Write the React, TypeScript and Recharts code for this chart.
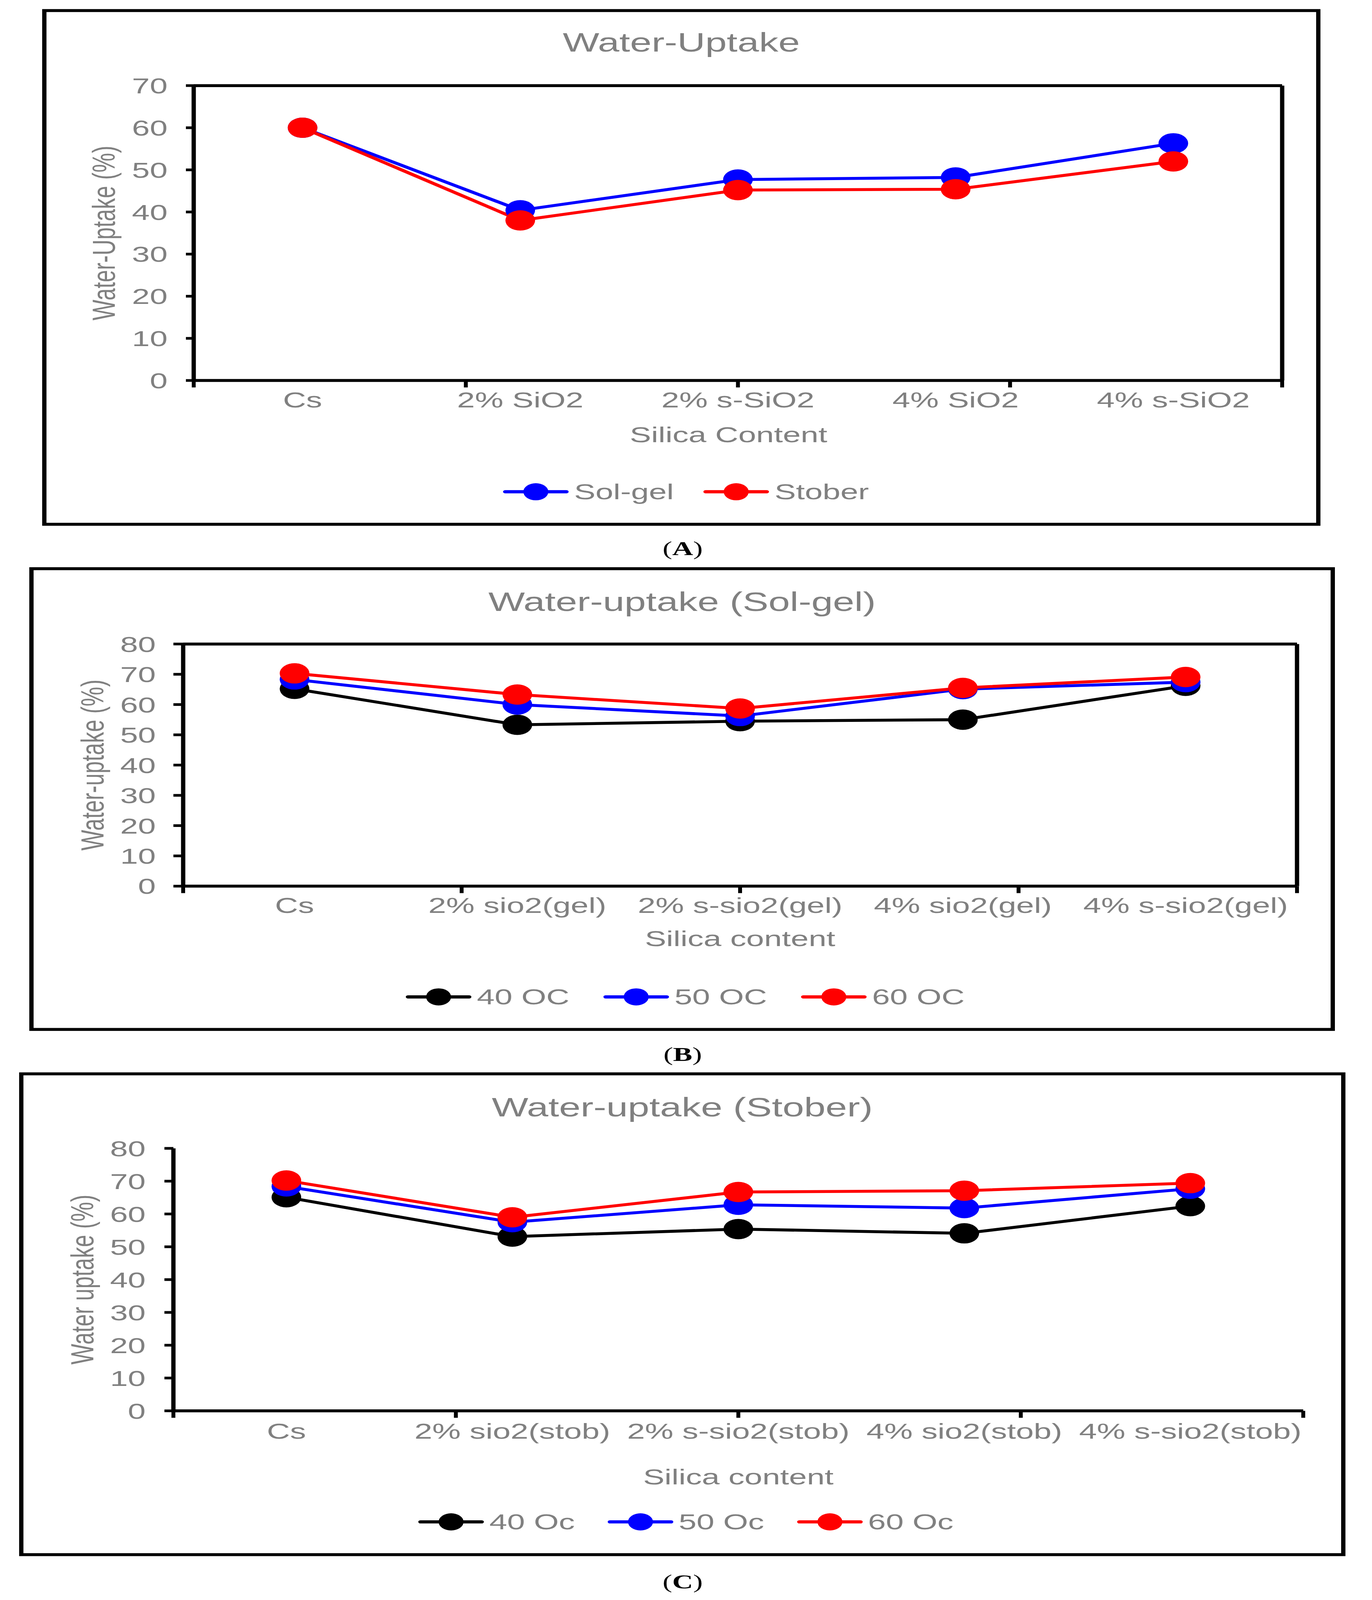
import React from 'react';
import { LineChart, Line, XAxis, YAxis, Legend } from 'recharts';

const FONT = '"Liberation Sans", Arial, Helvetica, sans-serif';
const SERIF = '"Liberation Serif", "Times New Roman", Times, serif';
const GRAY = '#808080';

// ---------- Panel A ----------
const catsA = ['Cs', '2% SiO2', '2% s-SiO2', '4% SiO2', '4% s-SiO2'];
const solGelA = [60, 40.4, 47.7, 48.2, 56.3];
const stoberA = [60, 38.0, 45.2, 45.4, 52.0];
const yTicksA = [0, 10, 20, 30, 40, 50, 60, 70];

// ---------- Panel B ----------
const catsB = ['Cs', '2% sio2(gel)', '2% s-sio2(gel)', '4% sio2(gel)', '4% s-sio2(gel)'];
const b40 = [65.2, 53.3, 54.5, 55.0, 66.2];
const b50 = [68.3, 60.0, 56.2, 65.1, 67.4];
const b60 = [70.3, 63.3, 58.7, 65.5, 69.1];

// ---------- Panel C ----------
const catsC = ['Cs', '2% sio2(stob)', '2% s-sio2(stob)', '4% sio2(stob)', '4% s-sio2(stob)'];
const c40 = [65.1, 53.1, 55.4, 54.1, 62.4];
const c50 = [68.4, 57.5, 62.8, 61.8, 67.7];
const c60 = [70.2, 59.0, 66.7, 67.1, 69.4];

const yTicks80 = [0, 10, 20, 30, 40, 50, 60, 70, 80];

const PAGE_W = 3513;
const PAGE_H = 5980;

type Series = { key: string; name: string; color: string; values: number[] };

type Geo = {
  left: number; top: number; width: number; height: number;
  plotLeft: number; plotTop: number; plotRight: number; plotBottom: number;
  yTickSize: number; yTickMargin: number; yLabelDx: number;
  xTickMargin: number; xAxisHeight: number; xLabelDx: number;
  titleBaseline: number;
  legendLeft: number; legendCenterY: number; legendGap: number;
  box: boolean;
};

const B = 11;
const AXIS = { stroke: '#000', strokeWidth: 11 };
const TICK = { stroke: '#000', strokeWidth: 10 };
const blank = () => '';

function LegendRow({ payload, gap }: { payload?: any[]; gap: number }) {
  return (
    <div style={{ display: 'flex', alignItems: 'center', height: 80, whiteSpace: 'nowrap' }}>
      {(payload || []).map((e: any, i: number) => (
        <div key={i} style={{ display: 'flex', alignItems: 'center', marginLeft: i ? gap : 0 }}>
          <svg width={168} height={80} style={{ display: 'block' }}>
            <line x1={6} y1={40} x2={162} y2={40} stroke={e.color} strokeWidth={12} strokeLinecap="round" />
            <circle cx={84} cy={40} r={32} fill={e.color} />
          </svg>
          <span style={{ marginLeft: 14, fontSize: 82, fontFamily: FONT, color: GRAY, lineHeight: '80px' }}>
            {e.value}
          </span>
        </div>
      ))}
    </div>
  );
}

function Panel({ geo, title, cats, series, yMax, yTicks, xTitle, yTitle }: {
  geo: Geo; title: string; cats: string[]; series: Series[]; yMax: number; yTicks: number[]; xTitle: string; yTitle: string;
}) {
  const cw = geo.width - 2 * B;
  const ch = geo.height - 2 * B;
  const n = cats.length;
  const pw = geo.plotRight - geo.plotLeft;
  const pad = pw / (2 * n);
  const data = cats.map((c, i) => {
    const row: any = { cat: c };
    series.forEach((s) => { row[s.key] = s.values[i]; });
    return row;
  });
  const edges = Array.from({ length: n + 1 }, (_, i) => i);
  const frame = geo.box ? 1 : 0;
  const margin = {
    top: geo.plotTop - frame,
    left: 0,
    right: cw - geo.plotRight - frame,
    bottom: ch - geo.plotBottom - 1 - geo.xAxisHeight,
  };
  const tickStyle = { fill: GRAY, fontSize: 82, fontFamily: FONT };
  return (
    <div style={{
      position: 'absolute', left: geo.left, top: geo.top, width: geo.width, height: geo.height,
      border: `${B}px solid #000`, boxSizing: 'border-box', background: '#fff',
    }}>
      <div style={{
        position: 'absolute', left: 0, width: cw, top: geo.titleBaseline - 84, textAlign: 'center',
        fontFamily: FONT, fontSize: 99, lineHeight: '99px', color: GRAY, whiteSpace: 'nowrap',
      }}>{title}</div>
      <div style={{ position: 'absolute', left: 0, top: 0 }}>
        <LineChart width={cw} height={ch} data={data} margin={margin}>
          {/* axis line + tick marks between categories (id 0 keeps it next to the plot) */}
          <XAxis
            xAxisId={0} type="number" domain={[0, n]} ticks={edges} interval={0}
            tickFormatter={blank} tick={{ fontSize: 1, fill: 'none' }}
            tickSize={26} tickLine={TICK} axisLine={AXIS} height={1} allowDataOverflow
          />
          <XAxis
            xAxisId="cat" dataKey="cat" type="category" interval={0}
            tickLine={false} axisLine={false} tickSize={0} tickMargin={geo.xTickMargin}
            height={geo.xAxisHeight} padding={{ left: pad, right: pad }} tick={tickStyle}
            label={{ value: xTitle, position: 'bottom', offset: 0, dx: geo.xLabelDx, fill: GRAY, fontSize: 82, fontFamily: FONT }}
          />
          {geo.box && (
            <XAxis
              xAxisId="top" orientation="top" type="number" domain={[0, n]} ticks={edges}
              tick={false} tickLine={false} axisLine={AXIS} height={1} allowDataOverflow
            />
          )}
          <YAxis
            type="number" domain={[0, yMax]} ticks={yTicks} interval={0} width={geo.plotLeft}
            tickSize={geo.yTickSize} tickMargin={geo.yTickMargin}
            tickLine={TICK} axisLine={AXIS}
            tick={tickStyle} allowDataOverflow
            label={{ value: yTitle, angle: -90, position: 'center', dx: geo.yLabelDx, fill: GRAY, fontSize: 82, fontFamily: FONT }}
          />
          {geo.box && (
            <YAxis
              yAxisId="right" orientation="right" type="number" domain={[0, yMax]} ticks={yTicks}
              tick={false} tickLine={false} axisLine={AXIS} width={1} allowDataOverflow
            />
          )}
          <Legend
            verticalAlign="middle" layout="horizontal" align="center"
            wrapperStyle={{ left: geo.legendLeft, top: geo.legendCenterY - 40, width: 'auto', height: 80 }}
            content={(p: any) => <LegendRow payload={p.payload} gap={geo.legendGap} />}
          />
          {series.map((s) => (
            <Line
              key={s.key} xAxisId="cat" dataKey={s.key} name={s.name} type="linear"
              stroke={s.color} strokeWidth={11} strokeLinejoin="round"
              dot={{ r: 38, fill: s.color, stroke: s.color, strokeWidth: 0 }}
              activeDot={false} isAnimationActive={false}
            />
          ))}
        </LineChart>
      </div>
    </div>
  );
}

const geoA: Geo = {
  left: 108, top: 34, width: 3273, height: 1931,
  plotLeft: 377, plotTop: 275, plotRight: 3164, plotBottom: 1377,
  yTickSize: 20, yTickMargin: 47, yLabelDx: -43,
  xTickMargin: 42, xAxisHeight: 172, xLabelDx: -24,
  titleBaseline: 147,
  legendLeft: 1169, legendCenterY: 1793, legendGap: 76,
  box: true,
};

const geoB: Geo = {
  left: 75, top: 2120, width: 3343, height: 1733,
  plotLeft: 383, plotTop: 276, plotRight: 3235, plotBottom: 1181,
  yTickSize: 25, yTickMargin: 45, yLabelDx: -42,
  xTickMargin: 40, xAxisHeight: 165, xLabelDx: 0,
  titleBaseline: 152,
  legendLeft: 953, legendCenterY: 1595, legendGap: 87,
  box: true,
};

const geoC: Geo = {
  left: 49, top: 4008, width: 3396, height: 1808,
  plotLeft: 384, plotTop: 273, plotRight: 3277, plotBottom: 1254,
  yTickSize: 23, yTickMargin: 48, yLabelDx: -42,
  xTickMargin: 45, xAxisHeight: 215, xLabelDx: 0,
  titleBaseline: 153,
  legendLeft: 1011, legendCenterY: 1669, legendGap: 84,
  box: false,
};

const seriesA: Series[] = [
  { key: 'solgel', name: 'Sol-gel', color: '#0000FF', values: solGelA },
  { key: 'stober', name: 'Stober', color: '#FF0000', values: stoberA },
];
const seriesB: Series[] = [
  { key: 't40', name: '40 OC', color: '#000000', values: b40 },
  { key: 't50', name: '50 OC', color: '#0000FF', values: b50 },
  { key: 't60', name: '60 OC', color: '#FF0000', values: b60 },
];
const seriesC: Series[] = [
  { key: 't40', name: '40 Oc', color: '#000000', values: c40 },
  { key: 't50', name: '50 Oc', color: '#0000FF', values: c50 },
  { key: 't60', name: '60 Oc', color: '#FF0000', values: c60 },
];

function PanelLabel({ letter, baseline }: { letter: string; baseline: number }) {
  return (
    <div style={{
      position: 'absolute', left: 1548, width: 400, top: baseline - 62, textAlign: 'center',
      fontFamily: SERIF, fontSize: 74, lineHeight: '74px', color: '#000',
    }}>(<b>{letter}</b>)</div>
  );
}

function fitScale(): [number, number] {
  if (typeof window === 'undefined') return [1, 1];
  const sx = Math.min(1, (window.innerWidth || PAGE_W) / PAGE_W);
  const sy = Math.min(1, (window.innerHeight || PAGE_H) / PAGE_H);
  return [sx, sy];
}

export default function App() {
  // The figure is laid out in the reference's 3513x5980 coordinates; if the
  // browser viewport is smaller, the whole figure is fitted into it.
  const [[sx, sy]] = React.useState<[number, number]>(fitScale);
  return (
    <div style={{ position: 'relative', width: PAGE_W * sx, height: PAGE_H * sy, margin: -8, overflow: 'hidden', background: '#fff' }}>
      <div style={{
        position: 'absolute', left: 0, top: 0, width: PAGE_W, height: PAGE_H, background: '#fff',
        transform: `scale(${sx}, ${sy})`, transformOrigin: '0 0',
      }}>
        <Panel geo={geoA} title="Water-Uptake" cats={catsA} series={seriesA} yMax={70} yTicks={yTicksA}
          xTitle="Silica Content" yTitle="Water-Uptake (%)" />
        <PanelLabel letter="A" baseline={2075} />
        <Panel geo={geoB} title="Water-uptake (Sol-gel)" cats={catsB} series={seriesB} yMax={80} yTicks={yTicks80}
          xTitle="Silica content" yTitle="Water-uptake (%)" />
        <PanelLabel letter="B" baseline={3965} />
        <Panel geo={geoC} title="Water-uptake (Stober)" cats={catsC} series={seriesC} yMax={80} yTicks={yTicks80}
          xTitle="Silica content" yTitle="Water uptake (%)" />
        <PanelLabel letter="C" baseline={5936} />
      </div>
    </div>
  );
}
